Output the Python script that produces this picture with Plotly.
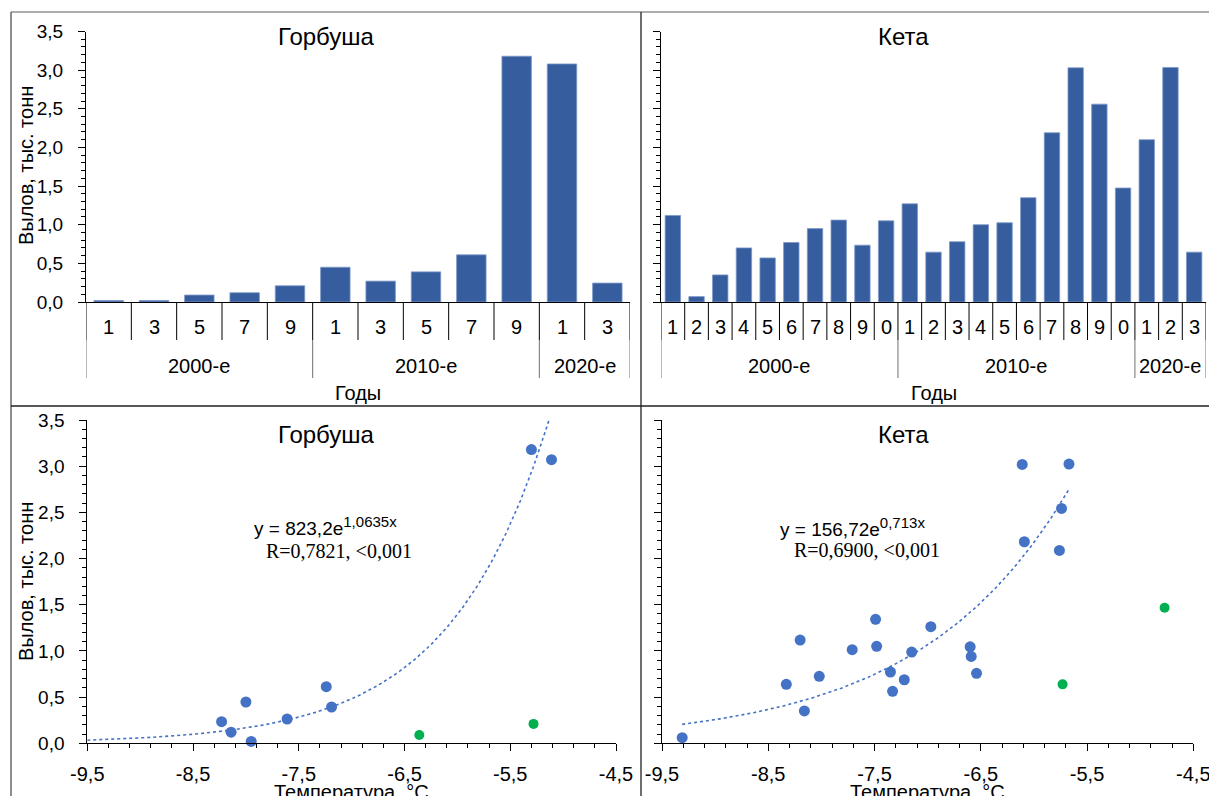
import numpy as np
import plotly.graph_objects as go

# ---------------- DATA ----------------
gorb_year_digits = ["1", "3", "5", "7", "9", "1", "3", "5", "7", "9", "1", "3"]
gorb_catch = [0.02, 0.02, 0.09, 0.12, 0.21, 0.45, 0.27, 0.39, 0.61, 3.18, 3.08, 0.245]
gorb_group_labels = ["2000-е", "2010-е", "2020-е"]
gorb_group_sizes = [5, 5, 2]

keta_year_digits = ["1", "2", "3", "4", "5", "6", "7", "8", "9", "0",
                    "1", "2", "3", "4", "5", "6", "7", "8", "9", "0",
                    "1", "2", "3"]
keta_catch = [1.12, 0.07, 0.35, 0.70, 0.57, 0.77, 0.95, 1.06, 0.735, 1.05,
              1.27, 0.645, 0.78, 1.00, 1.025, 1.35, 2.19, 3.03, 2.56, 1.475,
              2.10, 3.035, 0.645]
keta_group_labels = ["2000-е", "2010-е", "2020-е"]
keta_group_sizes = [10, 10, 3]

gorb_temp_blue = [-8.23, -8.14, -8.00, -7.95, -7.61, -7.24, -7.19, -5.30, -5.11]
gorb_catch_blue = [0.234, 0.12, 0.447, 0.02, 0.263, 0.613, 0.393, 3.18, 3.07]
gorb_temp_green = [-6.36, -5.28]
gorb_catch_green = [0.09, 0.21]

keta_temp_blue = [-9.31, -8.33, -8.20, -8.16, -8.02, -7.71, -7.49, -7.48, -7.35, -7.33,
                  -7.22, -7.15, -6.97, -6.60, -6.59, -6.54, -6.11, -6.09, -5.76, -5.74, -5.67]
keta_catch_blue = [0.061, 0.638, 1.118, 0.35, 0.725, 1.013, 1.342, 1.05, 0.772, 0.563,
                   0.688, 0.988, 1.262, 1.045, 0.941, 0.757, 3.019, 2.182, 2.088, 2.543, 3.023]
keta_temp_green = [-5.73, -4.77]
keta_catch_green = [0.638, 1.467]

# trend equations shown on the chart: y = A * exp(B * x)
gorb_trend_A, gorb_trend_B = 823.2, 1.0635
gorb_trend_xrange = [-9.5, -5.11]
keta_trend_A, keta_trend_B = 156.72, 0.713
keta_trend_xrange = [-9.31, -5.67]

scatter_xtick_vals = [-9.5, -8.5, -7.5, -6.5, -5.5, -4.5]
scatter_xtick_text = ["-9,5", "-8,5", "-7,5", "-6,5", "-5,5", "-4,5"]

ylabel = "Вылов, тыс. тонн"
xlabel_bar = "Годы"
xlabel_scatter = "Температура, °С"

# ---------------- STYLE / LAYOUT ----------------
W, H = 1209, 796
SANS = "Liberation Sans, Arial, sans-serif"
SERIF = "Liberation Serif, Times New Roman, serif"
BAR_COLOR = "#365E9F"
BLUE = "#4472C4"
GREEN = "#00B050"


def px_x(p):
    return p / W


def px_y(p):
    return 1 - p / H


fig = go.Figure()

# bar charts
fig.add_trace(go.Bar(x=list(range(len(gorb_catch))), y=gorb_catch,
                     marker=dict(color=BAR_COLOR, line=dict(color="#7d98c8", width=0.8)),
                     xaxis="x", yaxis="y", showlegend=False))
fig.add_trace(go.Bar(x=list(range(len(keta_catch))), y=keta_catch,
                     marker=dict(color=BAR_COLOR, line=dict(color="#7d98c8", width=0.8)),
                     xaxis="x2", yaxis="y2", showlegend=False))

# scatter charts
gx = np.linspace(gorb_trend_xrange[0], gorb_trend_xrange[1], 300)
fig.add_trace(go.Scatter(x=gx, y=gorb_trend_A * np.exp(gorb_trend_B * gx), mode="lines",
                         line=dict(color=BLUE, width=1.6, dash="dot"), xaxis="x3", yaxis="y3", showlegend=False))
fig.add_trace(go.Scatter(x=gorb_temp_blue, y=gorb_catch_blue, mode="markers", marker=dict(color=BLUE, size=11),
                         xaxis="x3", yaxis="y3", showlegend=False, cliponaxis=False))
fig.add_trace(go.Scatter(x=gorb_temp_green, y=gorb_catch_green, mode="markers", marker=dict(color=GREEN, size=10),
                         xaxis="x3", yaxis="y3", showlegend=False, cliponaxis=False))

kx = np.linspace(keta_trend_xrange[0], keta_trend_xrange[1], 300)
fig.add_trace(go.Scatter(x=kx, y=keta_trend_A * np.exp(keta_trend_B * kx), mode="lines",
                         line=dict(color=BLUE, width=1.6, dash="dot"), xaxis="x4", yaxis="y4", showlegend=False))
fig.add_trace(go.Scatter(x=keta_temp_blue, y=keta_catch_blue, mode="markers", marker=dict(color=BLUE, size=11),
                         xaxis="x4", yaxis="y4", showlegend=False, cliponaxis=False))
fig.add_trace(go.Scatter(x=keta_temp_green, y=keta_catch_green, mode="markers", marker=dict(color=GREEN, size=10),
                         xaxis="x4", yaxis="y4", showlegend=False, cliponaxis=False))

TICKFONT = dict(family=SANS, size=19, color="black")

yaxis_common = dict(range=[0, 3.5], dtick=0.5, tick0=0, tickformat=".1f", showgrid=False, zeroline=False,
                    showline=True, linecolor="black", linewidth=1, ticks="outside", ticklen=7,
                    tickcolor="black", automargin=False,
                    minor=dict(dtick=0.1, ticks="outside", ticklen=4, tickcolor="black", showgrid=False))

bar_x_common = dict(showgrid=False, zeroline=False, showline=True, linecolor="black", linewidth=1,
                    showticklabels=False, ticks="", automargin=False)

scatter_x_common = dict(range=[-9.5, -4.5], tickmode="array", tickvals=scatter_xtick_vals, ticktext=scatter_xtick_text,
                        showgrid=False, zeroline=False, showline=True, linecolor="black", linewidth=1,
                        ticks="outside", ticklen=7, tickcolor="black",
                        tickfont=dict(family=SANS, size=20, color="black"),
                        ticklabelstandoff=6, automargin=False, ticklabeloverflow="allow",
                        minor=dict(dtick=0.2, tick0=-9.5, ticks="outside", ticklen=4, tickcolor="black",
                                   showgrid=False))

top_dom = [px_y(302), px_y(31.5)]
bot_dom = [px_y(743.3), px_y(420)]

fig.update_layout(
    width=W, height=H, margin=dict(l=0, r=0, t=0, b=0, autoexpand=False),
    paper_bgcolor="white", plot_bgcolor="rgba(0,0,0,0)",
    separators=", ", bargap=0.35, showlegend=False,
    font=dict(family=SANS, color="black"),
    xaxis=dict(domain=[px_x(86), px_x(630)], range=[-0.5, len(gorb_catch) - 0.5], anchor="y", **bar_x_common),
    yaxis=dict(domain=top_dom, anchor="x", tickfont=TICKFONT, ticklabelstandoff=11, **yaxis_common),
    xaxis2=dict(domain=[px_x(661), px_x(1206)], range=[-0.5, len(keta_catch) - 0.5], anchor="y2", **bar_x_common),
    yaxis2=dict(domain=top_dom, anchor="x2", showticklabels=False, **yaxis_common),
    xaxis3=dict(domain=[px_x(87.3), px_x(616)], anchor="y3", **scatter_x_common),
    yaxis3=dict(domain=bot_dom, anchor="x3", tickfont=TICKFONT, ticklabelstandoff=11, **yaxis_common),
    xaxis4=dict(domain=[px_x(662), px_x(1193.3)], anchor="y4", **scatter_x_common),
    yaxis4=dict(domain=bot_dom, anchor="x4", showticklabels=False, **yaxis_common),
)

shapes = []
annotations = []


# hierarchical category axes for the bar charts
def category_axis(xref, digits, group_labels, group_sizes):
    n = len(digits)
    group_edges = {0}
    c = 0
    for s in group_sizes:
        c += s
        group_edges.add(c)
    for k in range(n + 1):
        shapes.append(dict(type="line", xref=xref, yref="paper", x0=k - 0.5, x1=k - 0.5,
                           y0=px_y(302), y1=px_y(340), line=dict(color="black", width=1)))
        if k in group_edges:
            shapes.append(dict(type="line", xref=xref, yref="paper", x0=k - 0.5, x1=k - 0.5,
                               y0=px_y(340), y1=px_y(378), line=dict(color="#707070", width=1)))
    for i, d in enumerate(digits):
        annotations.append(dict(text=d, xref=xref, yref="paper", x=i, y=px_y(327), showarrow=False,
                                xanchor="center", yanchor="middle",
                                font=dict(family=SANS, size=20, color="black")))
    start = 0
    for lab, s in zip(group_labels, group_sizes):
        annotations.append(dict(text=lab, xref=xref, yref="paper", x=start + (s - 1) / 2, y=px_y(366),
                                showarrow=False, xanchor="center", yanchor="middle",
                                font=dict(family=SANS, size=20, color="black")))
        start += s
    annotations.append(dict(text=xlabel_bar, xref=xref + " domain", yref="paper", x=0.5, y=px_y(393),
                            showarrow=False, xanchor="center", yanchor="middle",
                            font=dict(family=SANS, size=20, color="black")))


category_axis("x", gorb_year_digits, gorb_group_labels, gorb_group_sizes)
category_axis("x2", keta_year_digits, keta_group_labels, keta_group_sizes)

# titles
for txt, xp, yp in [("Горбуша", 326, 37), ("Кета", 904, 37), ("Горбуша", 326, 434), ("Кета", 904, 434)]:
    annotations.append(dict(text=txt, xref="paper", yref="paper", x=px_x(xp), y=px_y(yp), showarrow=False,
                            xanchor="center", yanchor="middle", font=dict(family=SANS, size=24, color="black")))

# y axis titles
for yp in (166, 582):
    annotations.append(dict(text=ylabel, xref="paper", yref="paper", x=px_x(26), y=px_y(yp), showarrow=False,
                            textangle=-90, xanchor="center", yanchor="middle",
                            font=dict(family=SANS, size=20, color="black")))

# x axis titles of scatter charts
for xr in ("x3", "x4"):
    annotations.append(dict(text=xlabel_scatter, xref=xr + " domain", yref="paper", x=0.5, y=px_y(792),
                            showarrow=False, xanchor="center", yanchor="middle",
                            font=dict(family=SANS, size=20, color="black")))

# equations
SUP = "<sup><span style='font-size:15px'>{}</span></sup>"
annotations.append(dict(text="y = 823,2e" + SUP.format("1,0635x"), xref="paper", yref="paper",
                        x=px_x(252), y=px_y(526), showarrow=False, xanchor="left", yanchor="middle",
                        font=dict(family=SANS, size=19, color="black")))
annotations.append(dict(text="R=0,7821, <0,001", xref="paper", yref="paper", x=px_x(264), y=px_y(551),
                        showarrow=False, xanchor="left", yanchor="middle",
                        font=dict(family=SERIF, size=20, color="black")))
annotations.append(dict(text="y = 156,72e" + SUP.format("0,713x"), xref="paper", yref="paper",
                        x=px_x(778), y=px_y(527), showarrow=False, xanchor="left", yanchor="middle",
                        font=dict(family=SANS, size=19, color="black")))
annotations.append(dict(text="R=0,6900, <0,001", xref="paper", yref="paper", x=px_x(792), y=px_y(550),
                        showarrow=False, xanchor="left", yanchor="middle",
                        font=dict(family=SERIF, size=20, color="black")))

# panel frame lines
frame = [
    (11, 12, 1209, 12, "#909090"),
    (11, 12, 11, 796, "#505050"),
    (641, 12, 641, 796, "#202020"),
    (11, 406, 1209, 406, "#202020"),
]
for x0, y0, x1, y1, col in frame:
    shapes.append(dict(type="line", xref="paper", yref="paper", x0=px_x(x0), y0=px_y(y0), x1=px_x(x1), y1=px_y(y1),
                       line=dict(color=col, width=1.3)))

fig.update_layout(shapes=shapes, annotations=annotations)
fig.write_html("out.html", config={"displayModeBar": False},
               post_script="document.body.style.margin='0';document.body.style.overflow='hidden';")
